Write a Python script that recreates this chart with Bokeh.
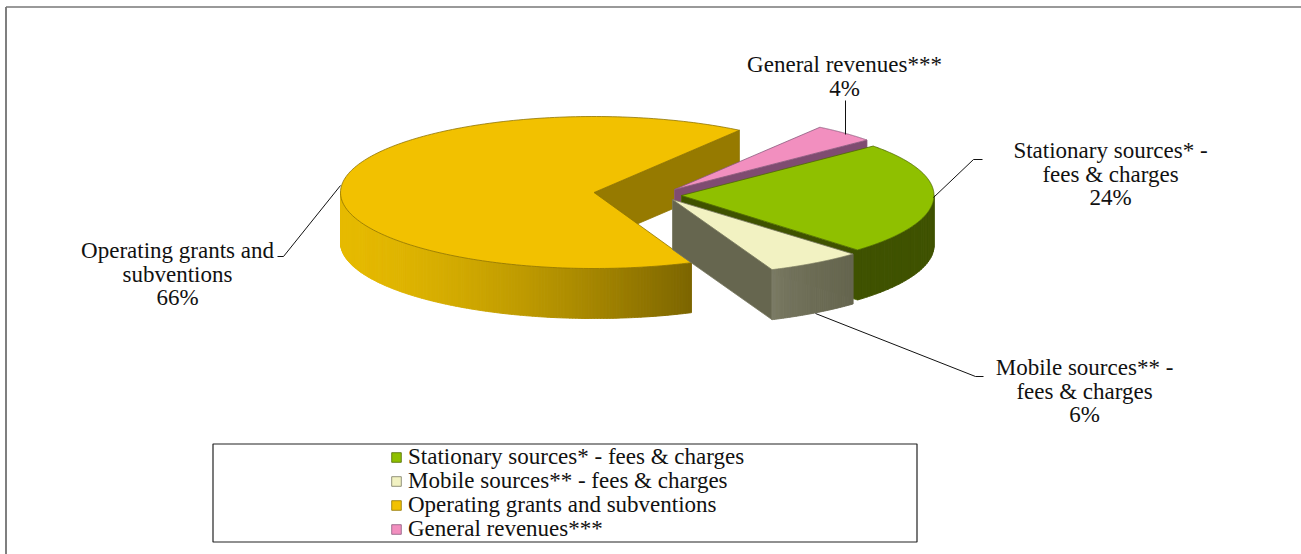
import math
from bokeh.plotting import figure
from bokeh.models import Range1d, Legend, LegendItem
from bokeh.core.properties import value
from bokeh.embed import file_html
from bokeh.resources import INLINE

categories = ["Stationary sources* - fees & charges", "Mobile sources** - fees & charges",
              "Operating grants and subventions", "General revenues***"]
shares = [24, 6, 66, 4]
label_lines = [["Stationary sources* -", "fees & charges", "24%"],
               ["Mobile sources** -", "fees & charges", "6%"],
               ["Operating grants and", "subventions", "66%"],
               ["General revenues***", "4%"]]

top_colors = ["#8FC000", "#F2F2C2", "#F2C100", "#F28FBF"]
wall_colors = ["#3F5200", "#66664F", "#967A00", "#7F4C71"]
edge_colors = ["#4F6A00", "#77775F", "#8F7400", "#8A5A7E"]

W, H = 1301, 554
RADII = [252.5, 259, 253.5, 253.5]
RY, DEPTH = 76, 50
apex = [(681, 195), (672, 199), (593.5, 192), (674, 189)]
FONT = value("Liberation Serif")
FS = "23px"

p = figure(width=W, height=H, x_range=Range1d(0, W), y_range=Range1d(H, 0),
           toolbar_location=None, output_backend="svg", min_border=0,
           outline_line_color=None, background_fill_color="white")
p.axis.visible = False
p.grid.visible = False

# clockwise slice angles from the values; general revenues ends where stationary begins
starts = {}
a = 55.0 - 360 * shares[3] / 100
for i in range(4):
    sweep = 360 * shares[i] / 100
    starts[i] = (a, a - sweep)
    a -= sweep

def pt(i, t, dz=0):
    cx, cy = apex[i]
    r = math.radians(t)
    return cx + RADII[i] * math.cos(r), cy - RY * math.sin(r) + dz

def arc(i, t0, t1, n=80, dz=0):
    return [pt(i, t0 + (t1 - t0) * k / n, dz) for k in range(n + 1)]

def mix(c0, c1, f):
    v0 = [int(c0[j:j + 2], 16) for j in (1, 3, 5)]
    v1 = [int(c1[j:j + 2], 16) for j in (1, 3, 5)]
    return "#%02X%02X%02X" % tuple(round(x + (y - x) * f) for x, y in zip(v0, v1))

def poly(pts, fill, line=None, lw=0.8):
    return p.patch([q[0] for q in pts], [q[1] for q in pts], fill_color=fill,
                   line_color=line or fill, line_width=lw)

def side_wall(i, t):
    cx, cy = apex[i]
    e = pt(i, t)
    poly([(cx, cy), e, (e[0], e[1] + DEPTH), (cx, cy + DEPTH)], wall_colors[i], edge_colors[i])

def rim(i, t0, t1, c0, c1, n=48, gamma=1.0):
    x_l, x_r = pt(i, t0)[0], pt(i, t1)[0]
    for k in range(n):
        a0 = t0 + (t1 - t0) * k / n
        a1 = t0 + (t1 - t0) * (k + 1) / n
        xs = 0.5 * (pt(i, a0)[0] + pt(i, a1)[0])
        col = mix(c0, c1, ((xs - min(x_l, x_r)) / abs(x_r - x_l)) ** gamma)
        q = arc(i, a0, a1, 3)
        poly(q + [(u, v + DEPTH) for u, v in reversed(q)], col, col, 1.0)

def top(i):
    t0, t1 = starts[i]
    return poly([apex[i]] + arc(i, t0, t1, 200), top_colors[i], edge_colors[i], 0.8)

tops = {}
# operating grants
side_wall(2, starts[2][1])
rim(2, -180, starts[2][0], "#E6BA00", "#7C6500", 160, 1.5)
tops[2] = top(2)
# general revenues
side_wall(3, starts[3][1])
tops[3] = top(3)
# stationary
side_wall(0, starts[0][1])
rim(0, starts[0][1], 0, "#3F5200", "#3F5200", 30)
tops[0] = top(0)
# mobile
side_wall(1, starts[1][1])
rim(1, starts[1][1], starts[1][0], "#7E7E68", "#66664F", 40, 0.5)
tops[1] = top(1)

# leader lines
leaders_x = [[933, 973, 982], [815, 975, 983], [340, 283, 277], [845, 845]]
leaders_y = [[197, 159, 159], [313, 376, 376], [185, 256, 256], [134, 100]]
for xs, ys in zip(leaders_x, leaders_y):
    p.line(xs, ys, line_color="#111111", line_width=1)

# data labels
label_x = [1110, 1084, 177, 844]
label_y = [150, 367, 250, 64]
for lines, x, y in zip(label_lines, label_x, label_y):
    for k, s in enumerate(lines):
        p.text([x], [y + k * 23.5], text=[s], text_align="center", text_baseline="middle",
               text_font=FONT, text_font_size=FS, text_color="#111111")

# frame and legend box
p.line([5.5, 5.5], [554, 6.5], line_color="#555555", line_width=1.5)
p.line([5.5, 1301], [6.5, 6.5], line_color="#777777", line_width=1.5)
p.quad(left=[212.5], right=[916.5], top=[443.5], bottom=[541.5],
       fill_color="white", line_color="#222222", line_width=1.2)

# one legend per row, so that the rows sit 24px apart
for i in range(4):
    legend = Legend(items=[LegendItem(label=categories[i], renderers=[tops[i]])],
                    location=(390, 12 + (3 - i) * 24), orientation="vertical",
                    border_line_color=None, background_fill_alpha=0,
                    label_text_font="Liberation Serif", label_text_font_size=FS,
                    label_text_color="#111111", glyph_width=12, glyph_height=12,
                    label_standoff=6, spacing=0, margin=0, padding=0, label_height=20)
    p.add_layout(legend, "center")

open("out.html", "w").write(file_html(p, INLINE))
